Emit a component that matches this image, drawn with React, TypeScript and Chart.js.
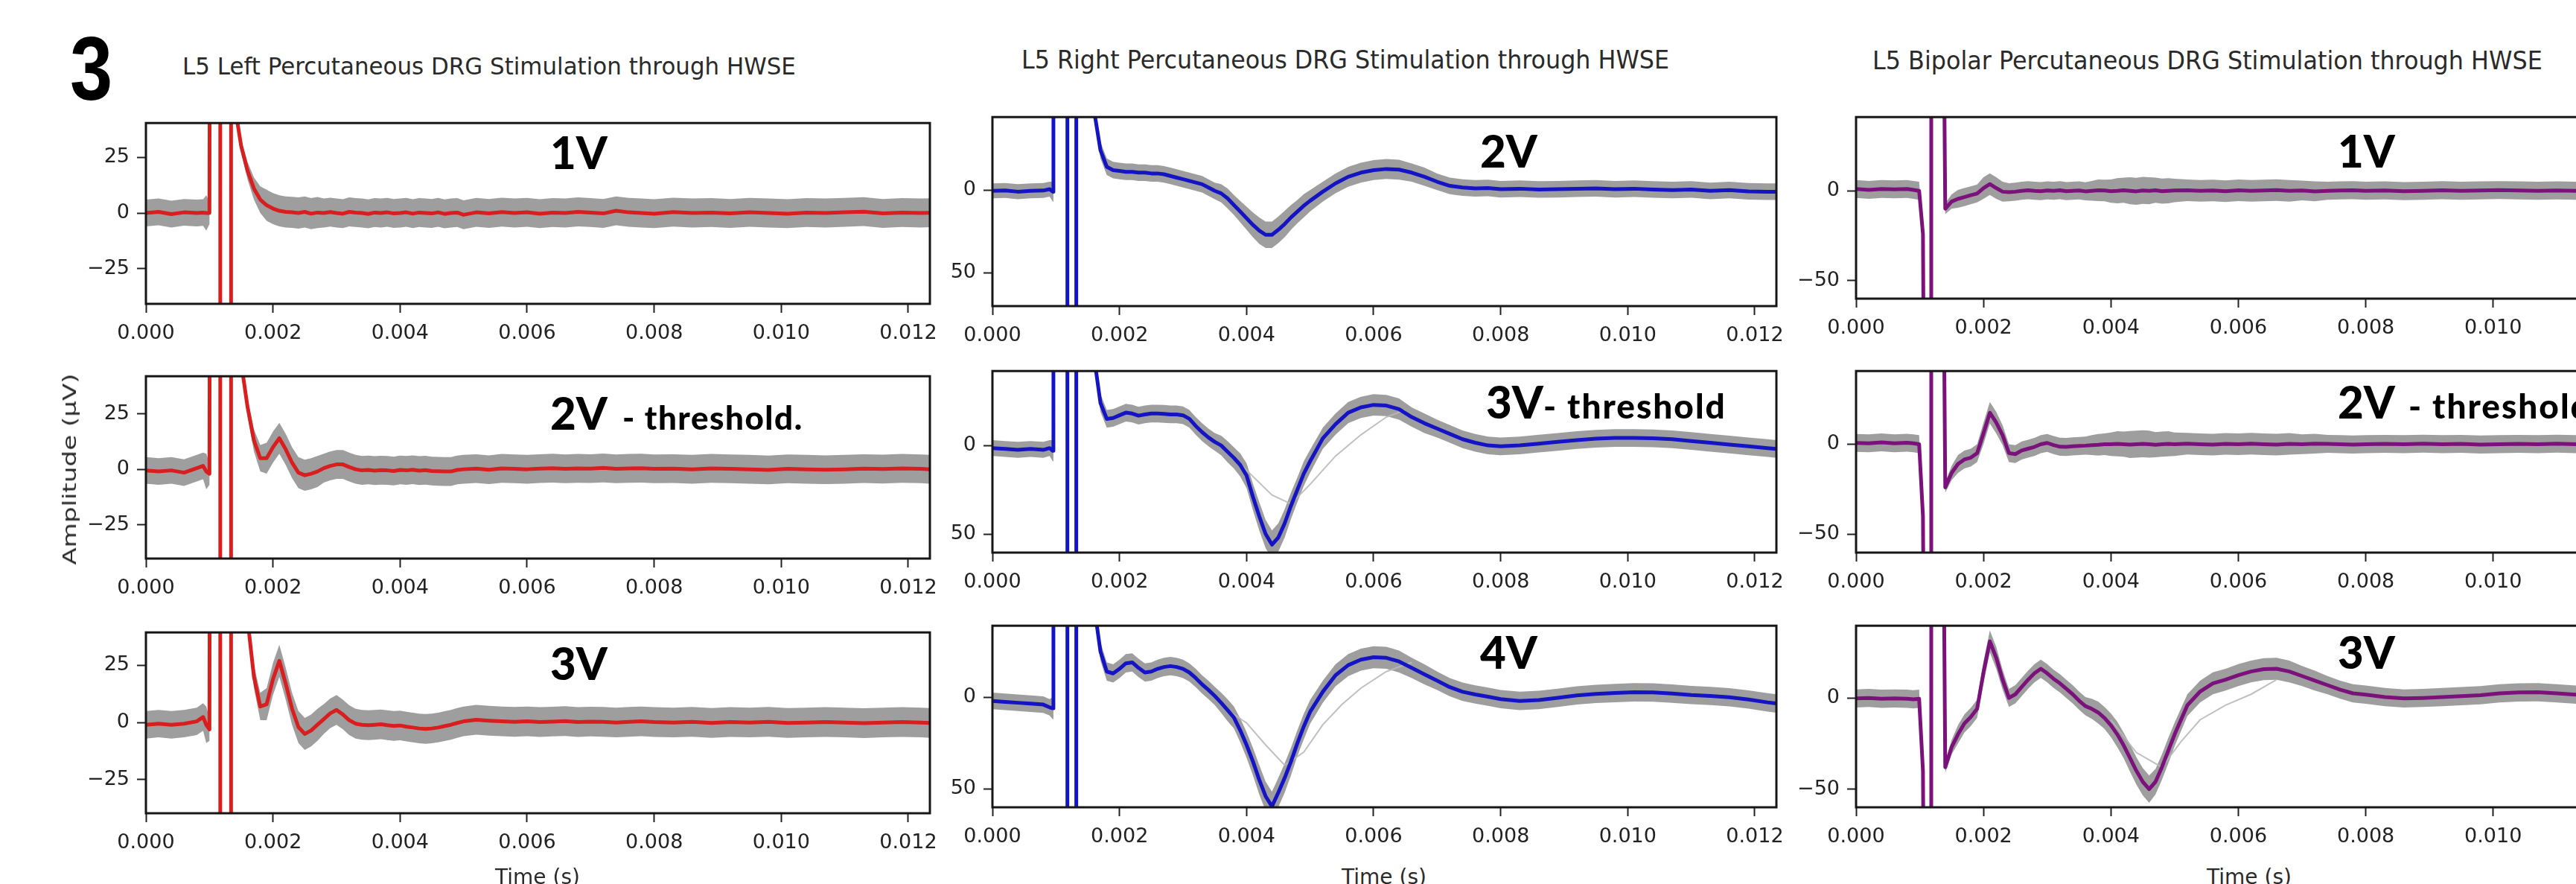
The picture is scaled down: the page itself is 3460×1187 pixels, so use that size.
import React, { useEffect, useRef } from "react";
import { Chart, registerables } from "chart.js";
Chart.register(...registerables);

// ---------------- axis ticks ----------------
const X_TICKS = [0, 0.002, 0.004, 0.006, 0.008, 0.01, 0.012];
const X_TICK_LABELS = ["0.000", "0.002", "0.004", "0.006", "0.008", "0.010", "0.012"];
const X_MAX = 0.01234;

const LEFT_Y_TICKS = [-25, 0, 25];
const LEFT_Y_TICK_LABELS = ["\u221225", "0", "25"];
const MID_Y_TICKS = [-50, 0];
const MID_Y_TICK_LABELS = ["50", "0"];
const RIGHT_Y_TICKS = [-50, 0];
const RIGHT_Y_TICK_LABELS = ["\u221250", "0"];

// ---------------- time grids (s) ----------------
const PRE_T_LEFT = [0, 0.0002, 0.0004, 0.0006, 0.0008, 0.0009, 0.00095, 0.001, 0.00101, 0.00117, 0.00117, 0.00134, 0.00134];
const PRE_T_MID = [0, 0.0002, 0.0004, 0.0006, 0.0008, 0.0009, 0.00095, 0.00096, 0.00118, 0.00118, 0.00132, 0.00132];
const PRE_T_RIGHT = [0, 0.0002, 0.0004, 0.0006, 0.0008, 0.0009, 0.00099, 0.00105, 0.00108, 0.00118, 0.00118, 0.00135];
const POST_T = [
  0.0014, 0.0015, 0.0016, 0.0017, 0.0018, 0.0019, 0.002, 0.0021, 0.0022, 0.0023,
  0.0024, 0.0025, 0.0026, 0.0027, 0.0028, 0.0029, 0.003, 0.0031, 0.0032, 0.0033,
  0.0034, 0.0035, 0.0036, 0.0037, 0.0038, 0.0039, 0.004, 0.0041, 0.0042, 0.0043,
  0.0044, 0.0045, 0.0046, 0.0047, 0.0048, 0.0049, 0.005, 0.0052, 0.0054, 0.0056,
  0.0058, 0.006, 0.0062, 0.0064, 0.0066, 0.0068, 0.007, 0.0072, 0.0074, 0.0076,
  0.0078, 0.008, 0.0083, 0.0086, 0.0089, 0.0092, 0.0095, 0.0098, 0.0101, 0.0104,
  0.0107, 0.011, 0.0113, 0.0116, 0.0119, 0.0122, 0.01234,
];

// ---------------- mean traces (µV) ----------------
// Left: L5 Left, 1V / 2V / 3V
const L1_PRE = [0, 0.5, -0.5, 0.3, 0, 0.2, 0, 0, 200, 200, -200, -200, 200];
const L1_POST = [
  48, 30, 19, 11, 6, 3.5, 2, 1, 0.5, 0.3,
  0, 0.5, -0.3, 0.2, 0, 0.4, 0, -0.3, 0.5, 0.2,
  0, -0.4, 0.2, 0, 0.3, -0.2, 0, 0.3, -0.3, 0.2,
  0, -0.2, 0.3, -0.4, 0, 0.2, -0.8, 0.3, -0.2, 0.4,
  0, 0.3, -0.3, 0.2, 0, 0.5, 0.2, -0.2, 1, 0.3,
  0, -0.3, 0.4, 0, 0.2, -0.2, 0.3, 0, -0.3, 0.2,
  0, 0.3, 0.6, -0.2, 0.2, 0, 0.1,
];
const L2_PRE = [-0.5, -1, -0.5, -1.5, 0.5, 1.5, -1, -2, 200, 200, -200, -200, 200];
const L2_POST = [
  150, 48, 28, 13, 5, 5, 10, 14, 9, 3,
  -1.5, -2.7, -2, -1, 0.5, 1.5, 2.2, 2.2, 1, 0,
  -0.5, -0.3, -0.6, -0.4, -0.5, -0.8, -0.3, -0.5, -0.2, -0.6,
  -0.4, -0.8, -0.9, -1, -1, -0.3, 0, 0.3, -0.2, 0.4,
  0.2, 0, 0.3, 0.5, 0.2, 0.4, 0.3, 0.6, 0.2, 0.4,
  0.5, 0.2, 0.3, 0, 0.4, 0.2, 0, -0.3, 0.2, 0,
  -0.2, 0, 0.3, 0.1, 0.4, 0.2, 0,
];
const L3_PRE = [-1, -0.5, -1, -0.5, 0.5, 2.4, -1, -3, 200, 200, -200, -200, 200];
const L3_POST = [
  200, 90, 45, 20, 7, 8, 19, 27, 17, 6,
  -2, -5, -3.5, -1, 1.5, 4, 5.5, 3.5, 1, -0.5,
  -1, -1.2, -1, -0.8, -1.2, -1.5, -1.3, -1.8, -2.2, -2.6,
  -2.8, -2.6, -2.2, -1.6, -1, -0.2, 0.5, 1.2, 0.8, 0.5,
  0.3, 0.5, 0.2, 0.4, 0.6, 0.2, 0.4, 0.3, 0, 0.3,
  0.5, 0.2, 0, 0.3, -0.2, 0.2, 0, 0.3, -0.2, 0,
  0.2, 0, -0.3, 0, 0.2, 0, -0.2,
];

// Middle: L5 Right, 2V / 3V / 4V
const M1_PRE = [-0.5, -0.3, -1, -0.5, -0.3, 0.5, -1, 200, 200, -200, -200, 200];
const M1_POST = [
  200, 120, 48, 24, 14, 12, 11.5, 11, 11, 10.5,
  10.5, 10, 10, 9.5, 8.5, 7.5, 6.5, 5.5, 4.5, 3.5,
  1.5, -0.5, -2, -5, -9, -13, -17, -21, -24.5, -27,
  -27, -24, -20.5, -16.5, -13, -9.5, -6.5, -1, 4, 8,
  10.5, 12, 12.7, 12.3, 10.5, 8, 5, 2.5, 1.5, 1,
  1.2, 0.5, 0.8, 0.3, 0.5, 0.8, 1, 0.5, 0.8, 0.3,
  0, 0.3, -0.5, 0, -0.8, -1, -1,
];
const M2_PRE = [-1.5, -2, -2.5, -2, -2.5, -1.5, -3, 200, 200, -200, -200, 200];
const M2_POST = [
  200, 120, 50, 24, 15, 15.5, 17, 18.5, 18, 16.8,
  17.5, 18, 18, 17.8, 17.5, 17.5, 17, 15, 11, 7.5,
  4.5, 2, 0, -3.5, -7, -11, -17, -29, -40, -50,
  -56, -52, -44, -34, -25, -16, -9, 4, 12, 18.5,
  21.5, 22.9, 22.5, 20.5, 16, 12.5, 9.5, 6.5, 3.5, 1.5,
  0, -0.5, 0, 1, 2, 3, 3.8, 4.2, 4.2, 4,
  3.5, 2.5, 1.5, 0.5, -0.5, -1.5, -2,
];
const M3_PRE = [-2, -2.5, -3, -3.5, -4, -5.5, -6, 200, 200, -200, -200, 200];
const M3_POST = [
  200, 120, 50, 25, 14, 13, 15.5, 18.5, 19, 16,
  13.5, 14, 15.5, 16.5, 17, 16.5, 15.5, 13.5, 10.5, 7,
  4, 0.7, -3, -7, -11, -18, -26, -35, -45, -54,
  -59.5, -52, -44, -35, -25, -16, -8, 3, 12, 17.5,
  20.5, 21.8, 21.5, 19.5, 16, 12.5, 9, 5.5, 3, 1.5,
  0.3, -1, -2, -1.5, -0.3, 1, 1.8, 2.3, 2.7, 2.6,
  2, 1.2, 0.7, 0, -1.2, -2.8, -3.4,
];

// Right: L5 Bipolar, 1V / 2V / 3V
const R1_PRE = [1, 0.5, 1, 0.8, 1, 0.5, 0, -24, -200, -200, 200, 200];
const R1_POST = [
  -10, -6, -4.5, -3.5, -2.5, -1.5, 1.5, 3.7, 1.5, -0.5,
  -0.8, -0.5, 0, 0.3, 0, -0.2, 0.2, 0, 0.3, -0.2,
  0, 0.2, -0.3, 0, 0.3, 0.2, -0.2, 0, 0.3, 0,
  -0.3, 0.2, 0, 0.3, -0.2, 0, 0.2, 0.3, 0, 0.2,
  -0.2, 0.3, 0, 0.2, 0.4, 0, 0.2, -0.3, 0, 0.2,
  0.3, 0, 0.2, -0.2, 0, 0.3, 0, 0.2, 0.4, 0.2,
  0, 0.2, 0, 0.3, 0, 0.2, 0,
];
const R2_PRE = [0.7, 0.5, 1, 0.5, 0.8, 0.5, 0, -40, -200, -200, 200, 200];
const R2_POST = [
  -24, -16, -11, -8.5, -7.5, -5, 6, 17.5, 12, 5,
  -5, -5.5, -3.5, -2.5, -1.5, 0, 0.7, -0.5, -1.4, -1.5,
  -1.2, -1, -0.8, -0.5, -0.3, 0, 0, 0.2, 0, -0.2,
  0, 0.2, 0, -0.3, 0, 0.2, 0, 0.3, 0, -0.2,
  0.2, 0, 0.3, 0, -0.2, 0.2, 0, 0.3, 0.2, 0,
  -0.2, 0, 0.2, 0, 0.3, 0, 0.2, -0.2, 0, 0.2,
  0, 0.3, 0, 0.2, 0, 0.3, 0,
];
const R3_PRE = [-0.3, 0, -0.5, -0.3, -0.5, -0.8, -0.5, -40, -200, -200, 200, 200];
const R3_POST = [
  -38, -27, -20, -14, -10.5, -6, 14, 31, 22, 10,
  0, 2, 6, 10, 13.5, 16, 13.5, 10.5, 8, 5,
  2, -1.5, -4.5, -6, -8, -11, -15, -20, -26, -33,
  -40, -46, -50, -46, -38, -29, -20, -4, 3.5, 8,
  10, 12.5, 14.5, 15.8, 16, 14.5, 12, 9.5, 7, 4.5,
  2.5, 1.8, 0.5, -0.3, 0, 0.5, 1, 1.5, 2.5, 3,
  3.1, 2.5, 1.8, 1.5, 1, 0.8, 0.5,
];

// ---------------- trial spread (half width of grey band, µV) ----------------
const LEFT_PRE_SPREAD = [6, 6, 6, 6, 6, 6, 8, 5, 0, 0, 0, 0, 0];
const LEFT_POST_SPREAD = [
  2, 3, 4, 5, 6, 7, 7, 7, 7, 7,
  7, 7, 7, 7, 6.5, 6.5, 6.5, 6.5, 6.5, 6.5,
  6.5, 6.5, 6.5, 6.5, 6.5, 6.5, 6.5, 6.5, 6.5, 6.5,
  6.5, 6.5, 6.5, 6.5, 6.5, 6.5, 6.5, 6.5, 6.5, 6.5,
  6.5, 6.5, 6.5, 6.5, 6.5, 6.5, 6.5, 6.5, 6.5, 6.5,
  6.5, 6.5, 6.5, 6.5, 6.5, 6.5, 6.5, 6.5, 6.5, 6.5,
  6.5, 6.5, 6.5, 6.5, 6.5, 6.5, 6.5,
];
const MID_PRE_SPREAD = [4.5, 4.5, 4.5, 4.5, 4.5, 4.5, 6, 0, 0, 0, 0, 0];
const MID_POST_SPREAD = [
  0, 2, 4, 5, 5, 5, 5, 5, 5, 5,
  5, 5, 5, 5, 5, 5, 5, 5, 5, 5,
  5, 5, 5.5, 6, 6, 6.5, 7, 7.5, 8, 8,
  8, 8, 8, 7.5, 7, 7, 6.5, 6, 6, 6,
  6, 6, 6, 6, 5.5, 5.5, 5, 5, 5, 5,
  5, 5, 5, 5, 5, 5, 5, 5, 5, 5,
  5, 5, 5, 5, 5, 5, 5,
];
const RIGHT_PRE_SPREAD = [5, 5, 5, 5, 5, 5, 5, 3, 0, 0, 0, 0];
const RIGHT_POST_SPREAD = [
  3, 4, 5, 5, 5, 5, 6, 6, 6, 5.5,
  5, 5, 5, 5, 5, 5, 5, 5, 5, 5,
  5, 5, 5, 5.5, 6, 6, 6.5, 7, 7, 7.5,
  7.5, 7.5, 7.5, 7, 7, 7, 6.5, 6, 6, 6,
  6, 6, 6, 6, 6, 6, 5.5, 5.5, 5, 5,
  5, 5, 5, 5, 5, 5, 5, 5, 5, 5,
  5, 5, 5, 5, 5, 5, 5,
];

// ---------------- faint delayed single trials ----------------
const M2_FAINT_T = [0.0036, 0.004, 0.0044, 0.0047, 0.005, 0.0054, 0.0058, 0.0062, 0.0065];
const M2_FAINT_Y = [0, -14, -28, -33, -22, -6, 6, 16, 20];
const M3_FAINT_T = [0.0037, 0.004, 0.0043, 0.0046, 0.0049, 0.0052, 0.0055, 0.0058, 0.0062, 0.0066];
const M3_FAINT_Y = [-7, -14, -26, -37, -30, -15, -4, 5, 14, 19];
const R3_FAINT_T = [0.004, 0.0044, 0.0048, 0.0051, 0.0054, 0.0058, 0.0062, 0.0066];
const R3_FAINT_Y = [-12, -30, -38, -24, -12, -4, 2, 10];

// ---------------- styling / layout ----------------
const RED = "#d81e1e";
const BLUE = "#1414c4";
const PURPLE = "#7b127b";
const BAND = "rgba(125,125,125,0.75)";
const FAINT = "rgba(185,185,185,0.9)";
const TICK_FONT = { family: "'DejaVu Sans', sans-serif", size: 27 };
const TICK_COLOR = "#222";

const PT = 24; // top padding inside canvas
const PR = 60; // right padding inside canvas
const YW = 130; // y axis width
const XH = 70; // x axis height

type PanelDef = {
  key: string;
  t: number[];
  y: number[];
  spread: number[];
  faintT?: number[];
  faintY?: number[];
  color: string;
  yMin: number;
  yMax: number;
  yTicks: number[];
  yLabels: string[];
  left: number;
  top: number;
  right: number;
  bottom: number;
};

const LEFT_T = [...PRE_T_LEFT, ...POST_T];
const MID_T = [...PRE_T_MID, ...POST_T];
const RIGHT_T = [...PRE_T_RIGHT, ...POST_T];
const LEFT_SPREAD = [...LEFT_PRE_SPREAD, ...LEFT_POST_SPREAD];
const MID_SPREAD = [...MID_PRE_SPREAD, ...MID_POST_SPREAD];
const RIGHT_SPREAD = [...RIGHT_PRE_SPREAD, ...RIGHT_POST_SPREAD];

const PANELS: PanelDef[] = [
  { key: "L1", t: LEFT_T, y: [...L1_PRE, ...L1_POST], spread: LEFT_SPREAD, color: RED, yMin: -40.9, yMax: 40.5, yTicks: LEFT_Y_TICKS, yLabels: LEFT_Y_TICK_LABELS, left: 196, top: 163, right: 1249, bottom: 408 },
  { key: "L2", t: LEFT_T, y: [...L2_PRE, ...L2_POST], spread: LEFT_SPREAD, color: RED, yMin: -40.3, yMax: 42, yTicks: LEFT_Y_TICKS, yLabels: LEFT_Y_TICK_LABELS, left: 196, top: 503, right: 1249, bottom: 750 },
  { key: "L3", t: LEFT_T, y: [...L3_PRE, ...L3_POST], spread: LEFT_SPREAD, color: RED, yMin: -39.7, yMax: 39.4, yTicks: LEFT_Y_TICKS, yLabels: LEFT_Y_TICK_LABELS, left: 196, top: 847, right: 1249, bottom: 1092 },
  { key: "M1", t: MID_T, y: [...M1_PRE, ...M1_POST], spread: MID_SPREAD, color: BLUE, yMin: -70, yMax: 44, yTicks: MID_Y_TICKS, yLabels: MID_Y_TICK_LABELS, left: 1333, top: 155, right: 2386, bottom: 411 },
  { key: "M2", t: MID_T, y: [...M2_PRE, ...M2_POST], spread: MID_SPREAD, faintT: M2_FAINT_T, faintY: M2_FAINT_Y, color: BLUE, yMin: -60.5, yMax: 42, yTicks: MID_Y_TICKS, yLabels: MID_Y_TICK_LABELS, left: 1333, top: 496, right: 2386, bottom: 742 },
  { key: "M3", t: MID_T, y: [...M3_PRE, ...M3_POST], spread: MID_SPREAD, faintT: M3_FAINT_T, faintY: M3_FAINT_Y, color: BLUE, yMin: -60, yMax: 39, yTicks: MID_Y_TICKS, yLabels: MID_Y_TICK_LABELS, left: 1333, top: 838, right: 2386, bottom: 1084 },
  { key: "R1", t: RIGHT_T, y: [...R1_PRE, ...R1_POST], spread: RIGHT_SPREAD, color: PURPLE, yMin: -60, yMax: 41, yTicks: RIGHT_Y_TICKS, yLabels: RIGHT_Y_TICK_LABELS, left: 2493, top: 155, right: 3549, bottom: 401 },
  { key: "R2", t: RIGHT_T, y: [...R2_PRE, ...R2_POST], spread: RIGHT_SPREAD, color: PURPLE, yMin: -60.3, yMax: 40.7, yTicks: RIGHT_Y_TICKS, yLabels: RIGHT_Y_TICK_LABELS, left: 2493, top: 496, right: 3549, bottom: 742 },
  { key: "R3", t: RIGHT_T, y: [...R3_PRE, ...R3_POST], spread: RIGHT_SPREAD, faintT: R3_FAINT_T, faintY: R3_FAINT_Y, color: PURPLE, yMin: -60, yMax: 39.6, yTicks: RIGHT_Y_TICKS, yLabels: RIGHT_Y_TICK_LABELS, left: 2493, top: 838, right: 3549, bottom: 1084 },
];

const framePlugin = {
  id: "frame",
  afterDatasetsDraw(chart: any) {
    const { ctx, chartArea } = chart;
    const { left, top, right, bottom } = chartArea;
    ctx.save();
    ctx.strokeStyle = "#161616";
    ctx.lineWidth = 3;
    ctx.strokeRect(left, top, right - left, bottom - top);
    ctx.restore();
  },
};

function Panel({ def }: { def: PanelDef }) {
  const ref = useRef<HTMLCanvasElement | null>(null);
  const plotW = def.right - def.left;
  const plotH = def.bottom - def.top;
  const W = YW + plotW + PR;
  const H = PT + plotH + XH;

  useEffect(() => {
    const canvas = ref.current;
    if (!canvas) return;
    const mean = def.t.map((x, i) => ({ x, y: def.y[i] }));
    const upper = def.t.map((x, i) => ({ x, y: def.y[i] + def.spread[i] }));
    const lower = def.t.map((x, i) => ({ x, y: def.y[i] - def.spread[i] }));
    const datasets: any[] = [
      { data: mean, borderColor: def.color, borderWidth: 5, order: 0, clip: 0, fill: false, borderJoinStyle: "round", borderCapStyle: "round" },
    ];
    if (def.faintT && def.faintY) {
      const fy = def.faintY;
      datasets.push({ data: def.faintT.map((x, i) => ({ x, y: fy[i] })), borderColor: FAINT, borderWidth: 2, order: 1, clip: 0, fill: false });
    }
    datasets.push({ data: upper, borderColor: "rgba(0,0,0,0)", borderWidth: 0, order: 3, clip: 0, fill: false });
    datasets.push({ data: lower, borderColor: "rgba(0,0,0,0)", borderWidth: 0, order: 2, clip: 0, fill: "-1", backgroundColor: BAND });

    const chart = new Chart(canvas, {
      type: "line",
      data: { datasets },
      plugins: [framePlugin],
      options: {
        responsive: false,
        animation: false,
        devicePixelRatio: 1,
        events: [],
        layout: { padding: { left: 0, top: PT, right: PR, bottom: 0 } },
        plugins: { legend: { display: false }, tooltip: { enabled: false }, title: { display: false } },
        elements: { point: { radius: 0 }, line: { tension: 0 } },
        scales: {
          x: {
            type: "linear",
            min: 0,
            max: X_MAX,
            afterBuildTicks: (ax: any) => {
              ax.ticks = X_TICKS.map((v) => ({ value: v }));
            },
            afterFit: (s: any) => {
              s.height = XH;
            },
            ticks: {
              autoSkip: false,
              maxRotation: 0,
              minRotation: 0,
              padding: 12,
              font: TICK_FONT,
              color: TICK_COLOR,
              callback: (_v: any, i: number) => X_TICK_LABELS[i],
            },
            grid: { drawOnChartArea: false, drawTicks: true, tickLength: 12, tickWidth: 2, tickColor: TICK_COLOR },
            border: { display: false },
          },
          y: {
            type: "linear",
            min: def.yMin,
            max: def.yMax,
            afterBuildTicks: (ax: any) => {
              ax.ticks = def.yTicks.map((v) => ({ value: v }));
            },
            afterFit: (s: any) => {
              s.width = YW;
            },
            ticks: {
              autoSkip: false,
              padding: 10,
              font: TICK_FONT,
              color: TICK_COLOR,
              callback: (_v: any, i: number) => def.yLabels[i],
            },
            grid: { drawOnChartArea: false, drawTicks: true, tickLength: 12, tickWidth: 2, tickColor: TICK_COLOR },
            border: { display: false },
          },
        },
      } as any,
    });
    return () => chart.destroy();
  }, [def]);

  return (
    <canvas
      ref={ref}
      width={W}
      height={H}
      style={{ position: "absolute", left: def.left - YW, top: def.top - PT, width: W, height: H }}
    />
  );
}

const TITLE_FONT = "'DejaVu Sans', sans-serif";
const LABEL_FONT = "Lato, 'Open Sans', sans-serif";

function Title({ text, left, top, size, sx }: { text: string; left: number; top: number; size: number; sx: number }) {
  return (
    <div
      style={{
        position: "absolute",
        left,
        top,
        fontFamily: TITLE_FONT,
        fontSize: size,
        lineHeight: 1,
        color: "#2a2a2a",
        whiteSpace: "nowrap",
        transform: `scaleX(${sx})`,
        transformOrigin: "left top",
      }}
    >
      {text}
    </div>
  );
}

function VLabel({ big, small, left, top, smallSize, gap, ls }: { big: string; small?: string; left: number; top: number; smallSize?: number; gap?: number; ls?: number }) {
  return (
    <div
      style={{
        position: "absolute",
        left,
        top,
        fontFamily: LABEL_FONT,
        fontWeight: 900,
        fontSize: 60,
        lineHeight: 1,
        color: "#000",
        whiteSpace: "nowrap",
      }}
    >
      <span>{big}</span>
      {small ? (
        <span style={{ fontSize: smallSize, marginLeft: gap, letterSpacing: ls }}>{small}</span>
      ) : null}
    </div>
  );
}

function TimeLabel({ cx }: { cx: number }) {
  return (
    <div
      style={{
        position: "absolute",
        left: cx,
        top: 1164,
        transform: "translateX(-50%)",
        fontFamily: TITLE_FONT,
        fontSize: 28,
        lineHeight: 1,
        color: "#2a2a2a",
        whiteSpace: "nowrap",
      }}
    >
      Time (s)
    </div>
  );
}

export default function App() {
  return (
    <div
      style={{
        position: "absolute",
        left: 0,
        top: 0,
        width: 3460,
        height: 1187,
        overflow: "hidden",
        background: "#ffffff",
      }}
    >
      {PANELS.map((p) => (
        <Panel key={p.key} def={p} />
      ))}

      <div
        style={{
          position: "absolute",
          left: 94,
          top: 32,
          fontFamily: "'Liberation Sans', Arial, sans-serif",
          fontWeight: 700,
          fontSize: 121,
          lineHeight: 1,
          color: "#000",
          transform: "scaleX(0.85)",
          transformOrigin: "left top",
        }}
      >
        3
      </div>

      <Title text="L5 Left Percutaneous DRG Stimulation through HWSE" left={245} top={73} size={32} sx={0.966} />
      <Title text="L5 Right Percutaneous DRG Stimulation through HWSE" left={1372} top={64} size={33} sx={0.962} />
      <Title text="L5 Bipolar Percutaneous DRG Stimulation through HWSE" left={2515} top={65.4} size={33} sx={0.964} />

      <div
        style={{
          position: "absolute",
          left: 94,
          top: 630,
          transform: "translate(-50%, -50%) rotate(-90deg) scaleX(1.42)",
          fontFamily: TITLE_FONT,
          fontSize: 24,
          lineHeight: 1,
          color: "#2a2a2a",
          whiteSpace: "nowrap",
        }}
      >
        Amplitude (µV)
      </div>

      <VLabel big="1V" left={739} top={174} />
      <VLabel big="2V" small="- threshold." left={739} top={524} smallSize={44} gap={20} ls={1.5} />
      <VLabel big="3V" left={739} top={860} />

      <VLabel big="2V" left={1988} top={172} />
      <VLabel big="3V" small="- threshold" left={1996} top={509} smallSize={46} gap={0} ls={2} />
      <VLabel big="4V" left={1988} top={845} />

      <VLabel big="1V" left={3140} top={172} />
      <VLabel big="2V" small="- threshold" left={3140} top={509} smallSize={46} gap={18} ls={2} />
      <VLabel big="3V" left={3140} top={845} />

      <TimeLabel cx={722} />
      <TimeLabel cx={1859} />
      <TimeLabel cx={3021} />
    </div>
  );
}
